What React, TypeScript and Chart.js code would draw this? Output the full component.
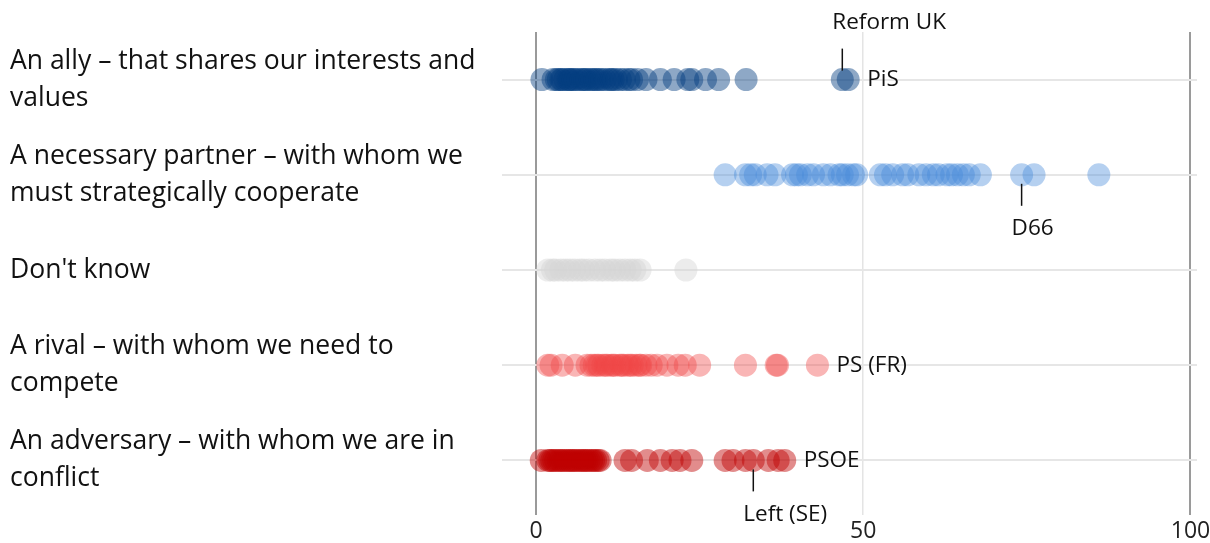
import React, { useEffect, useRef } from "react";
import { Chart, registerables } from "chart.js";

Chart.register(...registerables);

const categories: string[][] = [
  ["An ally – that shares our interests and", "values"],
  ["A necessary partner – with whom we", "must strategically cooperate"],
  ["Don't know"],
  ["A rival – with whom we need to", "compete"],
  ["An adversary – with whom we are in", "conflict"],
];

const allyValues = [0.9, 2.6, 3.1, 3.4, 3.8, 4.0, 4.4, 4.9, 5.1, 5.3, 5.7, 6.0, 6.4, 6.9, 7.2, 7.5, 7.8, 8.3, 8.6, 9.0, 9.3, 9.7, 10.1, 10.6, 11.2, 11.5, 11.8, 12.3, 12.9, 13.5, 14.2, 14.6, 15.5, 16.8, 19.0, 21.1, 23.2, 23.8, 25.9, 27.9, 32.1, 46.8, 47.7];
const partnerValues = [28.9, 32.0, 32.8, 33.5, 35.3, 36.5, 39.2, 39.8, 40.4, 41.5, 42.4, 43.9, 45.0, 46.3, 46.8, 47.6, 48.5, 49.0, 52.6, 53.4, 54.5, 56.0, 56.8, 58.5, 59.6, 60.7, 61.5, 62.8, 63.5, 64.4, 65.3, 66.2, 67.9, 74.2, 76.1, 86.0];
const dontKnowValues = [1.8, 2.5, 3.0, 3.8, 4.5, 5.2, 5.9, 6.7, 7.3, 8.1, 9.0, 9.8, 10.5, 11.4, 12.0, 12.8, 13.6, 14.4, 15.1, 15.9, 22.9];
const rivalValues = [1.8, 2.3, 4.0, 6.0, 7.8, 8.4, 8.9, 9.3, 9.6, 10.2, 10.6, 10.9, 11.5, 11.8, 12.1, 12.8, 13.1, 13.4, 14.0, 14.4, 14.7, 15.3, 15.8, 16.0, 16.8, 17.6, 18.5, 20.0, 21.7, 22.8, 25.0, 32.0, 36.7, 36.9, 43.0];
const adversaryValues = [0.8, 1.8, 2.1, 2.4, 2.7, 3.0, 3.4, 3.7, 4.0, 4.3, 4.7, 5.0, 5.3, 5.6, 5.9, 6.2, 6.6, 6.9, 7.2, 7.5, 7.8, 8.1, 8.5, 8.8, 9.1, 9.5, 9.8, 13.6, 14.6, 17.0, 19.0, 20.8, 22.0, 23.8, 28.9, 30.1, 32.0, 33.2, 35.5, 37.0, 38.0];

const xTickValues = [0, 50, 100];

// annotation labels: text, row index, value, placement
const annotationLabels = ["Reform UK", "PiS", "D66", "PS (FR)", "PSOE", "Left (SE)"];
const annotationRows = [0, 0, 1, 3, 4, 4];
const annotationValues = [46.8, 47.7, 74.2, 43.0, 38.0, 33.2];
const annotationPlacements = ["above", "right", "below", "right", "right", "below"];

const seriesValues = [allyValues, partnerValues, dontKnowValues, rivalValues, adversaryValues];
const seriesColors = [
  "rgba(4, 62, 128, 0.45)",
  "rgba(70, 137, 218, 0.4)",
  "rgba(212, 212, 212, 0.45)",
  "rgba(240, 70, 70, 0.4)",
  "rgba(190, 0, 0, 0.45)",
];

const FONT = "'Open Sans', 'Noto Sans', sans-serif";

const annotationPlugin = {
  id: "annotations",
  afterDatasetsDraw(chart: any) {
    const ctx = chart.ctx;
    const xs = chart.scales.x;
    const ys = chart.scales.y;
    ctx.save();
    ctx.font = `22.5px ${FONT}`;
    ctx.fillStyle = "#111";
    ctx.strokeStyle = "#111";
    ctx.lineWidth = 1.5;
    annotationLabels.forEach((label, i) => {
      const px = xs.getPixelForValue(annotationValues[i]);
      const py = ys.getPixelForValue(annotationRows[i]);
      const place = annotationPlacements[i];
      ctx.textAlign = "left";
      ctx.textBaseline = "middle";
      if (place === "right") {
        ctx.fillText(label, px + 19, py);
      } else if (place === "above") {
        ctx.beginPath();
        ctx.moveTo(px, py - 31);
        ctx.lineTo(px, py - 9);
        ctx.stroke();
        ctx.fillText(label, px - 10, py - 57);
      } else {
        ctx.beginPath();
        ctx.moveTo(px, py + 9);
        ctx.lineTo(px, py + 31);
        ctx.stroke();
        ctx.fillText(label, px - 10, py + 54);
      }
    });
    ctx.restore();
  },
};

export default function App() {
  const ref = useRef<HTMLCanvasElement | null>(null);

  useEffect(() => {
    document.body.style.margin = "0";
    const canvas = ref.current;
    if (!canvas) return;
    const datasets = seriesValues.map((vals, row) => ({
      label: categories[row].join(" "),
      data: vals.map((v) => ({ x: v, y: row })),
      backgroundColor: seriesColors[row],
      borderWidth: 0,
      pointRadius: 11.5,
      pointHoverRadius: 11.5,
    }));
    const chart = new Chart(canvas, {
      type: "scatter",
      data: { datasets },
      plugins: [annotationPlugin],
      options: {
        animation: false,
        responsive: false,
        maintainAspectRatio: false,
        layout: { padding: { left: 10, top: 32, right: 13, bottom: 0 } },
        plugins: { legend: { display: false }, tooltip: { enabled: false } },
        scales: {
          x: {
            type: "linear",
            min: -5.2,
            max: 101,
            afterBuildTicks: (axis: any) => {
              axis.ticks = xTickValues.map((v) => ({ value: v }));
            },
            afterFit: (axis: any) => {
              axis.height = 35;
              axis.paddingLeft = 0;
              axis.paddingRight = 0;
            },
            border: { display: false },
            grid: {
              color: (c: any) => (c.tick && c.tick.value === 50 ? "#e4e4e4" : "#9a9a9a"),
              lineWidth: (c: any) => (c.tick && c.tick.value === 50 ? 1.5 : 2),
              tickLength: 7,
            },
            ticks: {
              padding: 3,
              color: "#222",
              font: { family: FONT, size: 23 },
              maxRotation: 0,
            },
          },
          y: {
            type: "linear",
            min: -0.5,
            max: 4.5,
            reverse: true,
            afterBuildTicks: (axis: any) => {
              axis.ticks = categories.map((_, i) => ({ value: i }));
            },
            afterFit: (axis: any) => {
              axis.width = 492;
              axis.paddingTop = 0;
              axis.paddingBottom = 0;
            },
            border: { display: false },
            grid: { color: "#e6e6e6", lineWidth: 2, drawTicks: false },
            ticks: {
              crossAlign: "far",
              color: "#111",
              padding: 0,
              callback: (v: any) => categories[Math.round(Number(v))] as any,
              font: { family: FONT, size: 26.5, lineHeight: 1.4 },
            },
          },
        },
      },
    });
    return () => chart.destroy();
  }, []);

  return (
    <div style={{ width: 1210, height: 543 }}>
      <canvas ref={ref} width={1210} height={543} style={{ width: 1210, height: 543 }} />
    </div>
  );
}
